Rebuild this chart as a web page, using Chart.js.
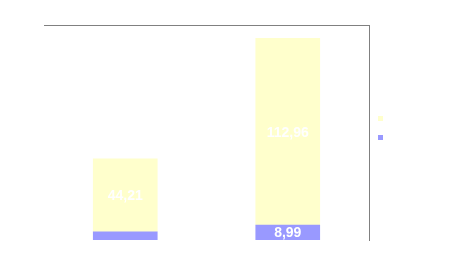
<!DOCTYPE html>
<html>
<head>
<meta charset="utf-8">
<script src="https://cdn.jsdelivr.net/npm/chart.js@4"></script>
<style>
  html, body { margin: 0; padding: 0; background: #fff; }
  #wrap { width: 475px; height: 276px; position: relative; }
</style>
</head>
<body>
<div id="wrap"><canvas id="chart"></canvas></div>
<script>
// data
const categories = ['A', 'B'];
const lowerValues = [4.88, 8.99];     // purple, bottom of stack
const upperValues = [44.21, 112.96];  // yellow, top of stack
const seriesNames = ['', ''];
const colors = { lower: '#9999FF', upper: '#FFFFCC', axis: '#808080' };

// white value labels in the middle of each segment (skip tiny ones)
const valueLabels = {
  id: 'valueLabels',
  afterDatasetsDraw(chart) {
    const ctx = chart.ctx;
    ctx.save();
    ctx.fillStyle = '#fff';
    ctx.font = 'bold 14px "Liberation Sans", Arial, sans-serif';
    ctx.textAlign = 'center';
    ctx.textBaseline = 'middle';
    chart.data.datasets.forEach((ds, i) => {
      chart.getDatasetMeta(i).data.forEach((bar, j) => {
        const h = Math.abs(bar.base - bar.y);
        if (h < 12) return;
        const txt = ds.data[j].toFixed(2).replace('.', ',');
        ctx.fillText(txt, bar.x, (bar.y + bar.base) / 2 + 1);
      });
    });
    ctx.restore();
  }
};

// small square legend keys to the right of the plot
const keyLegend = {
  id: 'keyLegend',
  afterDraw(chart) {
    const ctx = chart.ctx;
    const x = chart.chartArea.right + 9;
    const keys = [colors.upper, colors.lower];
    keys.forEach((c, i) => {
      ctx.fillStyle = c;
      ctx.fillRect(x, 116 + i * 19, 5, 5);
    });
  }
};

new Chart(document.getElementById('chart'), {
  type: 'bar',
  data: {
    labels: categories,
    datasets: [
      { label: seriesNames[0], data: lowerValues, backgroundColor: colors.lower, barThickness: 64 },
      { label: seriesNames[1], data: upperValues, backgroundColor: colors.upper, barThickness: 64 }
    ]
  },
  options: {
    responsive: true,
    maintainAspectRatio: false,
    animation: false,
    layout: { padding: { left: 44, right: 106, top: 25, bottom: 36 } },
    plugins: { legend: { display: false }, tooltip: { enabled: false } },
    scales: {
      x: {
        stacked: true,
        position: 'top',
        grid: { display: false, drawTicks: false },
        border: { display: true, color: colors.axis, width: 1 },
        ticks: { display: false }
      },
      y: {
        stacked: true,
        position: 'right',
        min: 0, max: 130,
        grid: { display: false, drawTicks: false },
        border: { display: true, color: colors.axis, width: 1 },
        ticks: { display: false }
      }
    }
  },
  plugins: [valueLabels, keyLegend]
});
</script>
</body>
</html>
